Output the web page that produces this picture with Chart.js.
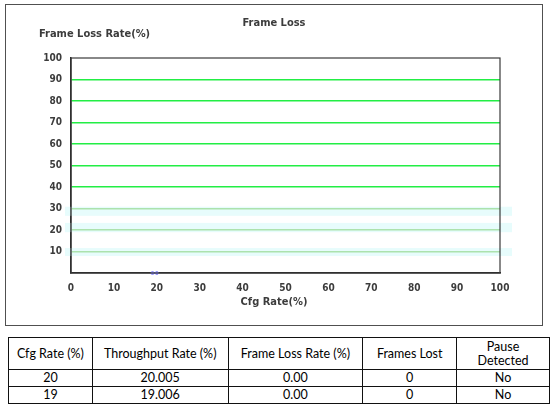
<!DOCTYPE html>
<html>
<head>
<meta charset="utf-8">
<script src="https://cdn.jsdelivr.net/npm/chart.js@4/dist/chart.umd.min.js"></script>
<style>
    body { margin: 0; background: #fff; width: 550px; height: 412px; position: relative; overflow: hidden; }
    #box { position: absolute; left: 5px; top: 4px; width: 536px; height: 320px; border: 1.5px solid #505050; }
    #box canvas { position: absolute; left: 0; top: 0; }
    #results { position: absolute; left: 8px; top: 337px; border-collapse: collapse; font-family: Lato, "Liberation Sans", sans-serif; font-size: 12.5px; color: #000; }
    #results th, #results td { border: 1.5px solid #111; text-align: center; padding: 0; font-weight: normal; }
    #results th { height: 31px; line-height: 14px; }
    #results td { height: 16px; line-height: 14px; }
</style>
</head>
<body>
<div id="box"><canvas id="chart" width="536" height="320"></canvas></div>
<table id="results"><thead><tr id="head"></tr></thead><tbody id="rows"></tbody></table>
<script>
// values
const cfgRate = [20, 19];
const throughputRate = ["20.005", "19.006"];
const frameLossRate = [0.00, 0.00];
const framesLost = [0, 0];
const pauseDetected = ["No", "No"];

const yTicks = [0, 10, 20, 30, 40, 50, 60, 70, 80, 90, 100];
const xTicks = [0, 10, 20, 30, 40, 50, 60, 70, 80, 90, 100];
const headers = ["Cfg Rate (%)", "Throughput Rate (%)", "Frame Loss Rate (%)", "Frames Lost", "Pause<br>Detected"];
const colWidths = [83, 135, 134, 93, 92];

// faint cyan bands seen behind the lower grid lines (value ranges)
const bandRanges = [[26.6, 30.8], [19, 23.3], [7.9, 11.6]];

const textColor = "#3c3c3c";
const chartFont = "DejaVu Sans Condensed";

const decorPlugin = {
    id: "decor",
    beforeDatasetsDraw(chart) {
        const { ctx, chartArea, scales } = chart;
        ctx.save();
        ctx.fillStyle = "rgba(215,250,250,0.6)";
        bandRanges.forEach(([lo, hi]) => {
            const y1 = scales.y.getPixelForValue(hi);
            const y2 = scales.y.getPixelForValue(lo);
            ctx.fillRect(chartArea.left - 6, y1, chartArea.right - chartArea.left + 18, y2 - y1);
        });
        ctx.restore();
    },
    afterDraw(chart) {
        const { ctx, chartArea } = chart;
        ctx.save();
        ctx.strokeStyle = "#3a3a3a";
        ctx.lineWidth = 1.2;
        ctx.strokeRect(chartArea.left, chartArea.top, chartArea.right - chartArea.left, chartArea.bottom - chartArea.top);
        ctx.fillStyle = textColor;
        ctx.font = "bold 11px " + chartFont;
        ctx.textBaseline = "middle";
        ctx.textAlign = "center";
        ctx.fillText("Frame Loss", chart.width / 2, 18);
        ctx.fillText("Cfg Rate(%)", chart.width / 2, 297);
        ctx.textAlign = "left";
        ctx.fillText("Frame Loss Rate(%)", 33, 29);
        ctx.restore();
    },
};

new Chart(document.getElementById("chart"), {
    type: "line",
    data: {
        datasets: [{
            data: cfgRate.map((c, i) => ({ x: c, y: frameLossRate[i] })),
            borderColor: "#8c8cff",
            backgroundColor: "#8c8cff",
            borderWidth: 1,
            pointRadius: 1.5,
            clip: false,
        }],
    },
    options: {
        responsive: false,
        animation: false,
        layout: { padding: { top: 53, right: 42, left: 0, bottom: 0 } },
        plugins: { legend: { display: false }, tooltip: { enabled: false } },
        scales: {
            x: {
                type: "linear",
                min: 0,
                max: 100,
                afterBuildTicks: (s) => { s.ticks = xTicks.map((v) => ({ value: v })); },
                afterFit: (s) => { s.height = 52; },
                grid: { display: false, drawTicks: false },
                border: { color: "#222", width: 1.5 },
                ticks: { padding: 9, color: textColor, font: { family: chartFont, size: 10, weight: "bold" }, maxRotation: 0 },
            },
            y: {
                min: 0,
                max: 100,
                afterBuildTicks: (s) => { s.ticks = yTicks.map((v) => ({ value: v })); },
                afterFit: (s) => { s.width = 65; },
                grid: {
                    drawTicks: false,
                    lineWidth: 1.5,
                    color: (c) => {
                        const v = c.tick && c.tick.value;
                        if (v === 0 || v === 100) return "rgba(0,0,0,0)";
                        return v <= 30 ? "#6cbd3a" : "#22ee44";
                    },
                },
                border: { color: "#222", width: 1.5 },
                ticks: {
                    padding: 9,
                    color: textColor,
                    font: { family: chartFont, size: 10, weight: "bold" },
                    callback: (v) => (v === 0 ? "" : v),
                },
            },
        },
    },
    plugins: [decorPlugin],
});

// results table
const head = document.getElementById("head");
headers.forEach((h, i) => {
    const th = document.createElement("th");
    th.innerHTML = h;
    th.style.width = colWidths[i] + "px";
    head.appendChild(th);
});
const rows = document.getElementById("rows");
cfgRate.forEach((c, i) => {
    const tr = document.createElement("tr");
    [c, throughputRate[i], frameLossRate[i].toFixed(2), framesLost[i], pauseDetected[i]].forEach((v) => {
        const td = document.createElement("td");
        td.textContent = v;
        tr.appendChild(td);
    });
    rows.appendChild(tr);
});
</script>
</body>
</html>
